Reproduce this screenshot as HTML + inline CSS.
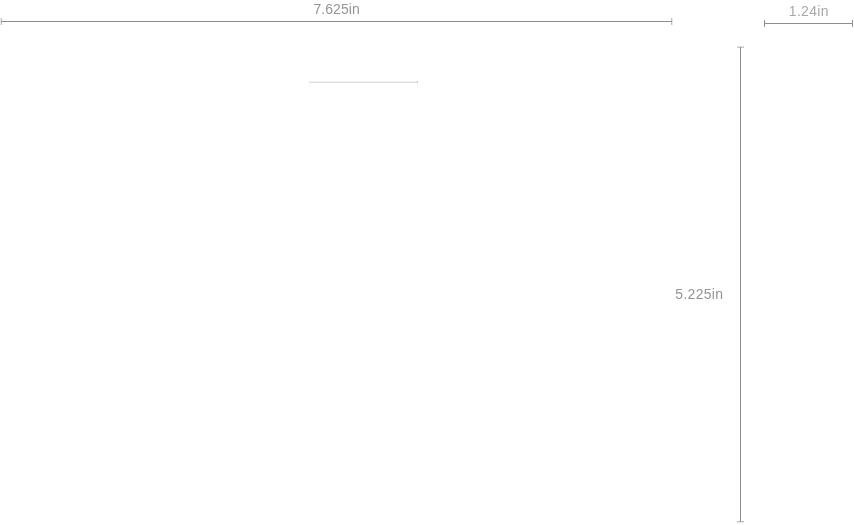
<!DOCTYPE html>
<html lang="en">
<head>
<meta charset="utf-8">
<title>Dimensions</title>
<style>
  html, body { margin: 0; padding: 0; background: #ffffff; }
  body { width: 854px; height: 525px; position: relative; overflow: hidden;
         font-family: "Liberation Sans", sans-serif; will-change: transform; }
  .abs { position: absolute; }
  .lbl { position: absolute; font-size: 14px; line-height: 14px; white-space: nowrap;
         color: #949494; letter-spacing: 0;
         transform: scaleY(1.05); transform-origin: 0 11.85px; }
  .hl { position: absolute; height: 1px; background: #8e8e8e; }
  .vl { position: absolute; width: 1px; background: #8e8e8e; }
  .tk { position: absolute; background: #b4b4b4; }
</style>
</head>
<body>
  <!-- width dimension -->
  <div class="lbl" id="t1" style="left:313.5px; top:1.5px; letter-spacing:0.05px;">7.625in</div>
  <div class="tk" style="left:0px; top:18px; width:1px; height:7px; background:#e6e6e6;"></div>
  <div class="tk" style="left:1px; top:18px; width:1px; height:7px; background:#c2c2c2;"></div>
  <div class="tk" style="left:671px; top:18px; width:1px; height:7px; background:#c2c2c2;"></div>
  <div class="tk" style="left:672px; top:18px; width:1px; height:7px; background:#e6e6e6;"></div>
  <div class="hl" style="left:1px; top:21px; width:671px;"></div>

  <!-- small width dimension -->
  <div class="lbl" id="t2" style="left:788.8px; top:4px; color:#a8a8a8; letter-spacing:0.3px;">1.24in</div>
  <div class="hl" style="left:764px; top:23px; width:89px;"></div>
  <div class="tk" style="left:764px; top:20px; width:1px; height:7px; background:#929292;"></div>
  <div class="tk" style="left:852px; top:20px; width:1px; height:7px; background:#929292;"></div>

  <!-- height dimension -->
  <div class="lbl" id="t3" style="left:675.3px; top:287px; letter-spacing:0.3px;">5.225in</div>
  <div class="tk" style="left:737px; top:46px; width:7px; height:1px; background:#e0e0e0;"></div>
  <div class="tk" style="left:737px; top:47px; width:7px; height:1px; background:#c8c8c8;"></div>
  <div class="tk" style="left:737px; top:521px; width:7px; height:1px; background:#c2c2c2;"></div>
  <div class="tk" style="left:737px; top:522px; width:7px; height:1px; background:#e8e8e8;"></div>
  <div class="vl" style="left:740px; top:47px; height:475px;"></div>

  <!-- faint product edge -->
  <div class="abs" style="left:309px; top:81px; width:109px; height:1px; background:#f3f3f3;"></div>
  <div class="abs" style="left:309px; top:82px; width:109px; height:1px; background:#dedede;"></div>
  <div class="abs" style="left:417px; top:81px; width:1px; height:2px; background:#cacaca;"></div>
  <div class="abs" style="left:309px; top:84px; width:1px; height:9px; background:#fcfcfc;"></div>
  <div class="abs" style="left:417px; top:84px; width:1px; height:6px; background:#f8f8f8;"></div>
  <div class="abs" style="left:418px; top:87px; width:4px; height:1px; background:#f9f9f9;"></div>
  <div class="abs" style="left:429px; top:86px; width:3px; height:1px; background:#fbfbfb;"></div>
</body>
</html>
